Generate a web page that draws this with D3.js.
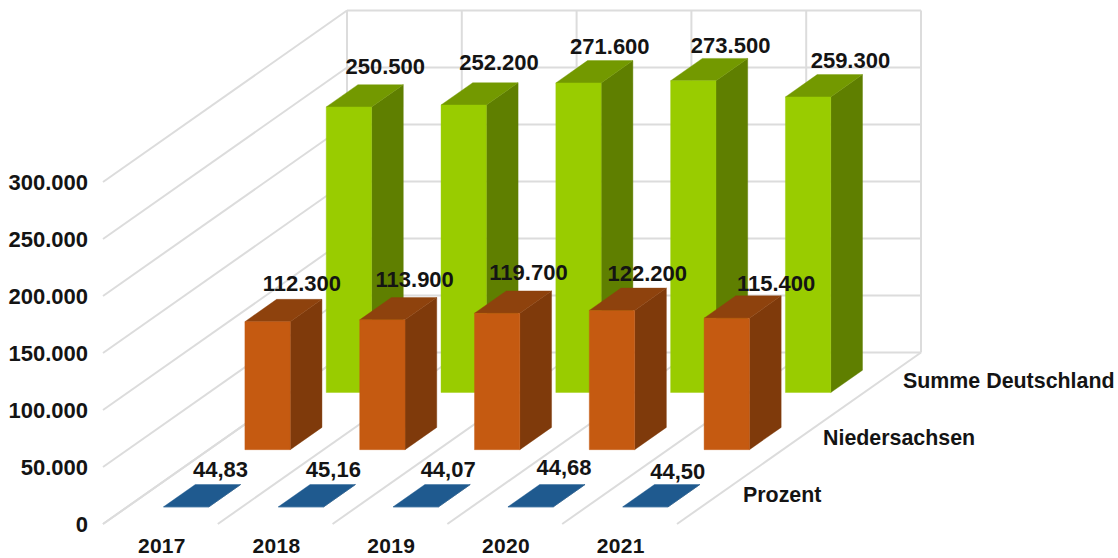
<!DOCTYPE html>
<html><head><meta charset="utf-8">
<script src="https://cdn.jsdelivr.net/npm/d3@7"></script>
<style>
html,body{margin:0;padding:0;background:#fff}
svg{display:block}
text{font-family:"Liberation Sans",Arial,sans-serif;font-weight:bold;fill:#141414}
</style></head><body>
<svg id="c" width="1118" height="558"></svg>
<script>
const years = ["2017","2018","2019","2020","2021"];
const seriesNames = ["Prozent","Niedersachsen","Summe Deutschland"];
const prozent = [44.83,45.16,44.07,44.68,44.50];
const niedersachsen = [112300,113900,119700,122200,115400];
const deutschland = [250500,252200,271600,273500,259300];
const yTicks = [0,50000,100000,150000,200000,250000,300000];
const prozentLabels = ["44,83","45,16","44,07","44,68","44,50"];

const seriesValues = [prozent,niedersachsen,deutschland];
const colors = [
  {front:"#1F5A8F",top:"#1F5A8F",side:"#173F66"},
  {front:"#C55A11",top:"#8E420D",side:"#7F3A0B"},
  {front:"#99CC00",top:"#739900",side:"#5F7F00"}
];
// label nudges relative to the bar's top-front-left corner
const labelDx = [[57,55,55,56,55],[57,55,54,58,72],[59,58,54,60,65]];
const labelDy = [[-37,-37,-37,-39,-35],[-38,-40,-41,-37,-35],[-40,-43,-36,-35,-36]];

const svg = d3.select("#c");
const x = d3.scaleLinear().domain([0,years.length]).range([103,677]);
const v = d3.scaleLinear().domain([0,300000]).range([0,342]);
const depthX = d3.scaleLinear().domain([0,seriesNames.length]).range([0,244]);
const depthY = d3.scaleLinear().domain([0,seriesNames.length]).range([0,171.5]);
const floorY = 524;
// projection: category position, series depth, value
const P = (c,d,val) => [x(c)+depthX(d), floorY-depthY(d)-v(val)];
const grid = svg.append("g").attr("fill","none").attr("stroke","#DCDCDC").attr("stroke-width",2);
const seg = (a,b) => grid.append("path").attr("d",d3.line()([a,b]));

yTicks.forEach(t=>{
  seg(P(0,0,t),P(0,3,t));
  seg(P(0,3,t),P(5,3,t));
});
d3.range(0,6).forEach(i=>{
  seg(P(i,0,0),P(i,3,0));
  seg(P(i,3,0),P(i,3,300000));
});

const poly = (pts,fill) => svg.append("polygon")
  .attr("points",pts.map(p=>p.join(",")).join(" "))
  .attr("fill",fill).attr("stroke",fill).attr("stroke-width",0.4);

const gapC=0.315, wC=0.395, gapD=0.3, wD=0.39;
[2,1,0].forEach(s=>{
  seriesValues[s].forEach((val,i)=>{
    const c0=i+gapC,c1=i+gapC+wC,d0=s+gapD,d1=s+gapD+wD,col=colors[s];
    poly([P(c1,d0,0),P(c1,d1,0),P(c1,d1,val),P(c1,d0,val)],col.side);
    poly([P(c0,d0,val),P(c1,d0,val),P(c1,d1,val),P(c0,d1,val)],col.top);
    poly([P(c0,d0,0),P(c1,d0,0),P(c1,d0,val),P(c0,d0,val)],col.front);
  });
});
[2,1,0].forEach(s=>{
  seriesValues[s].forEach((val,i)=>{
    const p=P(i+gapC,s+gapD,val);
    svg.append("text").attr("x",p[0]+labelDx[s][i]).attr("y",p[1]+labelDy[s][i])
      .attr("text-anchor","middle").attr("dominant-baseline","central")
      .attr("font-size",22)
      .text(s===0?prozentLabels[i]:d3.format(",")(val).replace(/,/g,"."));
  });
});

// value axis
const yAxisScale = d3.scaleLinear().domain([0,300000]).range([floorY,floorY-342]);
const yAxis = svg.append("g").attr("transform","translate(88,0)")
  .call(d3.axisLeft(yAxisScale).tickValues(yTicks).tickSize(0).tickPadding(0)
    .tickFormat(t=>d3.format(",")(t).replace(/,/g,".")));
yAxis.select(".domain").remove();
yAxis.selectAll("text").attr("font-size",22).style("font-family",'"Liberation Sans"').style("font-weight","bold").style("fill","#141414");

// category axis
const xAxisScale = d3.scaleBand().domain(years).range([x(0)+1.5,x(5)+1]);
const xAxis = svg.append("g").attr("transform","translate(0,546)")
  .call(d3.axisBottom(xAxisScale).tickSize(0).tickPadding(0));
xAxis.select(".domain").remove();
xAxis.selectAll("text").attr("font-size",21).attr("dy","0.35em").attr("y",0).style("letter-spacing","0.3px").style("font-family",'"Liberation Sans"').style("font-weight","bold").style("fill","#141414");

// series axis
seriesNames.forEach((n,s)=>{
  svg.append("text").attr("x",743+s*80).attr("y",495-s*57)
    .attr("dominant-baseline","central").attr("font-size",21.4).text(n);
});
</script></body></html>
